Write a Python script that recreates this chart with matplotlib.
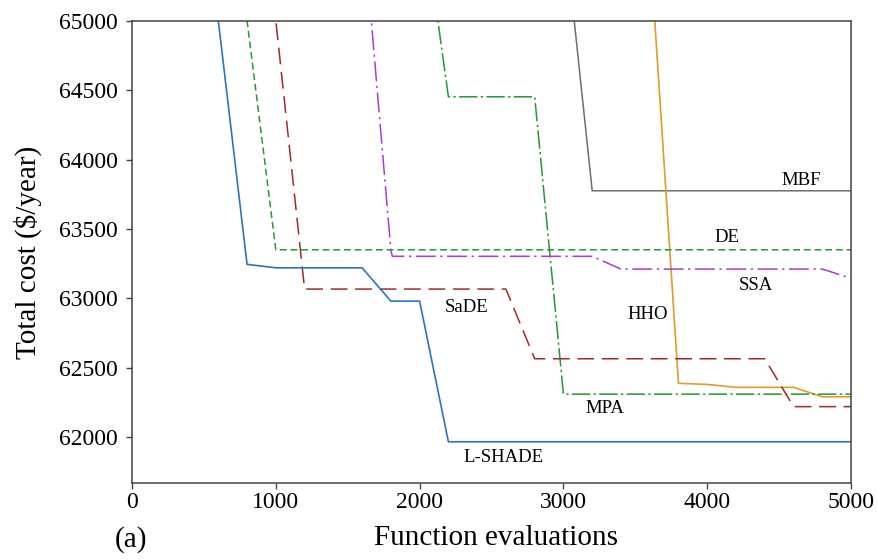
import numpy as np
import matplotlib
matplotlib.use("Agg")
import matplotlib.pyplot as plt

plt.rcParams['font.family'] = ['Liberation Serif', 'DejaVu Serif']

# convergence curves (function evaluations vs total cost)
lshade_x = [400, 600, 800, 1000, 1600, 1800, 2000, 2200, 5000]
lshade_y = [66750, 65000, 63245, 63220, 63220, 62980, 62980, 61967, 61967]

de_x = [600, 800, 1000, 5000]
de_y = [66650, 65000, 63350, 63350]

sade_x = [800, 1000, 1200, 2600, 2800, 4400, 4600, 5000]
sade_y = [66930, 65000, 63067, 63067, 62565, 62565, 62220, 62220]

ssa_x = [1600, 1800, 1810, 3200, 3400, 4800, 5000]
ssa_y = [65775, 63348, 63303, 63303, 63211, 63211, 63144]

mpa_x = [2000, 2200, 2800, 3000, 5000]
mpa_y = [65950, 64452, 64452, 62310, 62310]

hho_x = [3600, 3800, 4000, 4200, 4600, 4800, 5000]
hho_y = [65555, 62388, 62380, 62359, 62359, 62291, 62291]

mbf_x = [3000, 3200, 5000]
mbf_y = [65735, 63775, 63775]

names = ["MBF", "DE", "SSA", "HHO", "SaDE", "MPA", "L-SHADE"]
name_x = [4650, 4140, 4335, 3585, 2330, 3290, 2580]
name_y = [63852, 63441, 63096, 62887, 62937, 62210, 61856]

fig = plt.figure(figsize=(8.79, 5.6), dpi=100)
ax = fig.add_axes([0.1502, 0.1375, 0.818, 0.8255])

ax.plot(mbf_x, mbf_y, color='#6e6e6e', lw=1.1)
ax.plot(hho_x, hho_y, color='#e39a2a', lw=1.2)
ax.plot(mpa_x, mpa_y, color='#1e9a35', lw=1.1, dashes=(12, 2.2, 1.5, 2.2))
ax.plot(ssa_x, ssa_y, color='#a83bd0', lw=1.1, dashes=(13, 3, 1.5, 3))
ax.plot(sade_x, sade_y, color='#9e2a2a', lw=1.1, dashes=(11, 5))
ax.plot(de_x, de_y, color='#1f9a35', lw=1.1, dashes=(4.5, 2.5))
ax.plot(lshade_x, lshade_y, color='#2a73c4', lw=1.2)

for n, tx, ty in zip(names, name_x, name_y):
    ax.text(tx, ty, n, fontsize=13.5, ha='center', va='center')

ax.set_xlim(0, 5000)
ax.set_ylim(61670, 65000)
ax.set_xticks(np.arange(0, 5001, 1000))
ax.set_yticks(np.arange(62000, 65001, 500))
ax.tick_params(labelsize=17, length=4.5, width=1, color='#444444')
ax.tick_params(axis='y', pad=5.5)
ax.tick_params(axis='x', pad=2)
for s in ax.spines.values():
    s.set_color('#444444')
    s.set_linewidth(1.1)

fig.text(28 / 879, 1 - 252 / 560, 'Total cost ($/year)', rotation=90,
         ha='center', va='center', fontsize=21)
fig.text(496 / 879, 1 - 545 / 560, 'Function evaluations',
         ha='center', va='baseline', fontsize=21)
fig.text(115 / 879, 1 - 547 / 560, '(a)', ha='left', va='baseline', fontsize=21)

fig.savefig('out.png', dpi=100)
